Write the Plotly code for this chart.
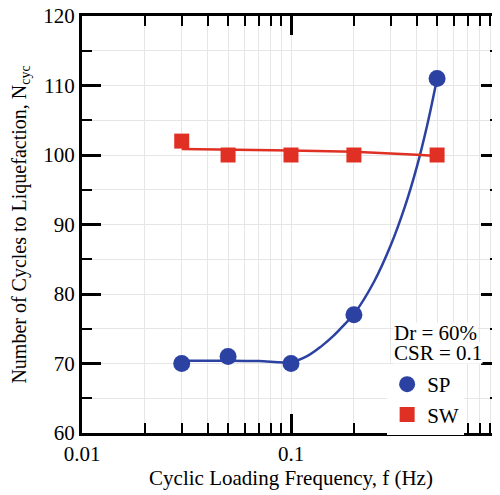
import plotly.graph_objects as go

# Measured data
freq = [0.03, 0.05, 0.1, 0.2, 0.5]
sp_ncyc = [70, 71, 70, 77, 111]
sw_ncyc = [102, 100, 100, 100, 100]

# Trend curves
sp_fit_x = [0.03, 0.04, 0.05, 0.07, 0.1, 0.12, 0.14, 0.16, 0.18, 0.2, 0.25, 0.3, 0.35, 0.4, 0.45, 0.5]
sp_fit_y = [70.4, 70.4, 70.4, 70.35, 70.2, 71.1, 72.5, 74.0, 75.6, 77.1, 81.8, 87.0, 92.5, 98.3, 104.5, 111.0]
sw_fit_x = [0.03, 0.05, 0.1, 0.2, 0.3, 0.4, 0.5]
sw_fit_y = [100.85, 100.78, 100.65, 100.45, 100.25, 100.05, 99.85]

x_tickvals = [0.01, 0.1, 1]
x_ticktext = ["0.01", "0.1", "1"]

BLUE = "rgb(44,66,163)"
RED = "rgb(224,48,36)"
FONT = "Liberation Serif"

fig = go.Figure()
fig.add_trace(go.Scatter(x=sp_fit_x, y=sp_fit_y, mode="lines", line=dict(color=BLUE, width=2.5, shape="spline"),
                         showlegend=False, hoverinfo="skip"))
fig.add_trace(go.Scatter(x=sw_fit_x, y=sw_fit_y, mode="lines", line=dict(color=RED, width=2.5),
                         showlegend=False, hoverinfo="skip"))
fig.add_trace(go.Scatter(x=freq, y=sp_ncyc, mode="markers", name="SP", legendgroup="a",
                         marker=dict(symbol="circle", size=17, color=BLUE)))
fig.add_trace(go.Scatter(x=freq, y=sw_ncyc, mode="markers", name="SW", legendgroup="b",
                         marker=dict(symbol="square", size=15, color=RED)))

axis_common = dict(
    showline=True, linewidth=3, linecolor="black", mirror="allticks",
    ticks="inside", ticklen=19, tickwidth=2.5, tickcolor="black",
    showgrid=True, gridcolor="#e6e6e6", gridwidth=1, zeroline=False, automargin=False,
    ticklabeloverflow="allow",
    tickfont=dict(family=FONT, size=21, color="black"),
)

fig.update_layout(
    width=500, height=495,
    margin=dict(l=74, r=8, t=8, b=70),
    paper_bgcolor="white", plot_bgcolor="white",
    font=dict(family=FONT, size=21, color="black"),
    xaxis=dict(type="log", range=[-2, 0], tickvals=x_tickvals, ticktext=x_ticktext,
               title=dict(text="Cyclic Loading Frequency, f (Hz)", font=dict(family=FONT, size=21), standoff=6),
               minor=dict(ticks="inside", ticklen=10, tickwidth=2, tickcolor="black", dtick="D1",
                          showgrid=True, gridcolor="#e6e6e6", gridwidth=1),
               **axis_common),
    yaxis=dict(range=[60, 120], tick0=60, dtick=10,
               title=dict(text="Number of Cycles to Liquefaction, N<sub>cyc</sub>", font=dict(family=FONT, size=20), standoff=12),
               minor=dict(ticks="inside", ticklen=10, tickwidth=2, tickcolor="black", dtick=5,
                          showgrid=True, gridcolor="#e6e6e6", gridwidth=1),
               **axis_common),
    legend=dict(x=0.73, y=0.1655, xanchor="left", yanchor="top", bgcolor="white",
                borderwidth=0, tracegroupgap=0,
                font=dict(family=FONT, size=21)),
    annotations=[
        dict(text="Dr = 60%", x=0.744, y=0.2405, xref="paper", yref="paper", xanchor="left", yanchor="middle",
             showarrow=False, bgcolor="white", font=dict(family=FONT, size=21), borderpad=0, height=20),
        dict(text="CSR = 0.1", x=0.744, y=0.193, xref="paper", yref="paper", xanchor="left", yanchor="middle",
             showarrow=False, bgcolor="white", font=dict(family=FONT, size=21), borderpad=0, height=20),
    ],
)

fig.write_html("out.html")
